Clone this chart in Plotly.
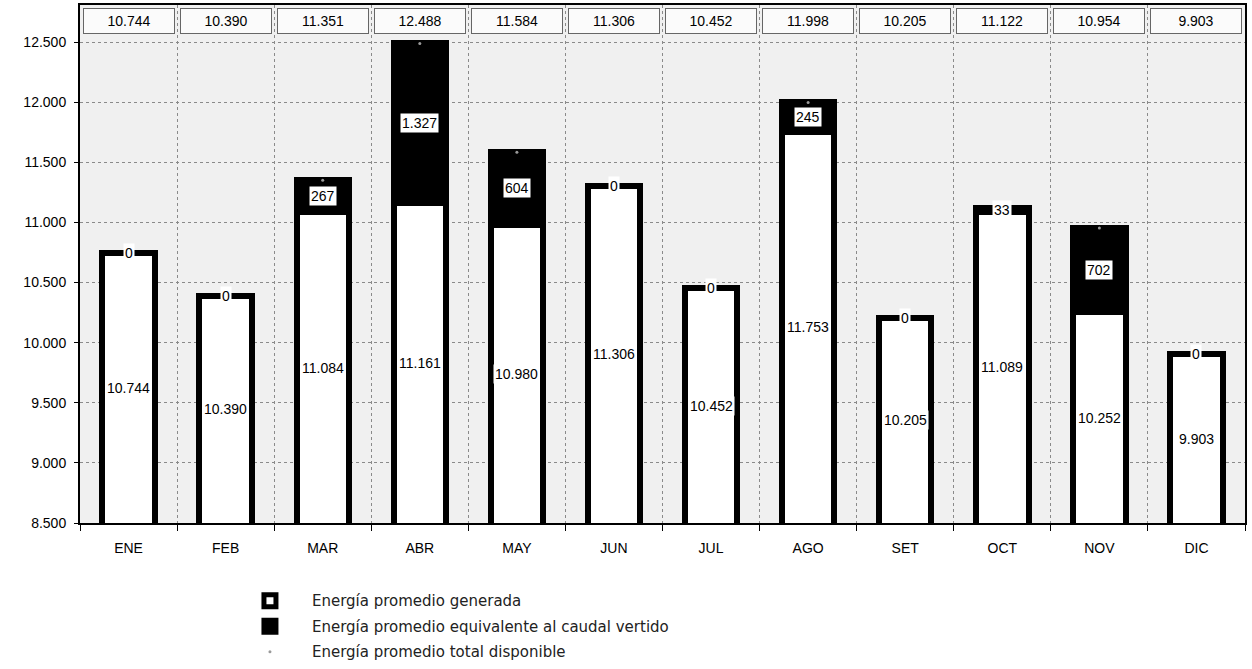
import plotly.graph_objects as go

months = ["ENE", "FEB", "MAR", "ABR", "MAY", "JUN", "JUL", "AGO", "SET", "OCT", "NOV", "DIC"]
generada = [10744, 10390, 11084, 11161, 10980, 11306, 10452, 11753, 10205, 11089, 10252, 9903]
vertido = [0, 0, 267, 1327, 604, 0, 0, 245, 0, 33, 702, 0]
total = [10744, 10390, 11351, 12488, 11584, 11306, 10452, 11998, 10205, 11122, 10954, 9903]

Y_MIN, Y_MAX = 8500, 12808

def fmt(v):
    return f"{v:,}".replace(",", ".")

fig = go.Figure()
fig.add_trace(go.Bar(
    x=months, y=generada, name="Energía promedio generada",
    marker=dict(color="white", line=dict(color="black", width=6)),
    width=0.54, legendgroup="g1",
))
fig.add_trace(go.Bar(
    x=months, y=vertido, name="Energía promedio equivalente al caudal vertido",
    marker=dict(color="black", line=dict(color="black", width=6)),
    width=0.54, legendgroup="g2",
))
fig.add_trace(go.Scatter(
    x=months, y=total, mode="markers", name="Energía promedio total disponible",
    marker=dict(size=3, color="#9a9a9a", symbol="circle"), legendgroup="g3",
))

lab_font = dict(family="Liberation Sans, Arial", size=14, color="black")
annotations = []
for m, g, v, t in zip(months, generada, vertido, total):
    annotations.append(dict(x=m, y=(Y_MIN + g) / 2, xref="x", yref="y", text=fmt(g),
                            showarrow=False, bgcolor="white", borderpad=1, font=lab_font))
    annotations.append(dict(x=m, y=g + v / 2, xref="x", yref="y", text=fmt(v),
                            showarrow=False, bgcolor="white", borderpad=1, font=lab_font))
    annotations.append(dict(x=m, y=0.969, xref="x", yref="paper", yanchor="middle",
                            text=fmt(t), showarrow=False,
                            bgcolor="rgba(255,255,255,0.75)", bordercolor="#666",
                            borderwidth=1, borderpad=1, width=88, height=22, font=lab_font))

fig.update_layout(
    width=1252, height=669,
    barmode="stack",
    separators=",.",
    paper_bgcolor="white",
    plot_bgcolor="#f0f0f0",
    margin=dict(l=80, r=7, t=5, b=146, autoexpand=False),
    font=dict(family="Liberation Sans, Arial", size=14, color="black"),
    annotations=annotations,
    showlegend=True,
    legend=dict(
        orientation="v", x=0.127, xanchor="left", y=-0.1185, yanchor="top",
        font=dict(family="DejaVu Sans", size=15, color="#222"),
        bgcolor="rgba(0,0,0,0)", tracegroupgap=3, traceorder="grouped",
        itemwidth=74,
    ),
)
fig.update_xaxes(
    type="category", range=[-0.5, len(months) - 0.5],
    showline=True, linecolor="black", linewidth=2, mirror=True,
    showgrid=True, gridcolor="#8a8a8a", griddash="dot", gridwidth=1,
    tickson="boundaries", ticks="outside", ticklen=6, tickcolor="black",
    tickfont=dict(size=14), automargin=False, ticklabelstandoff=11,
)
fig.update_yaxes(
    range=[Y_MIN, Y_MAX], dtick=500, tick0=8500, tickformat=",d",
    showline=True, linecolor="black", linewidth=2, mirror=True,
    showgrid=True, gridcolor="#8a8a8a", griddash="dot", gridwidth=1,
    ticks="outside", ticklen=4, tickcolor="black", ticklabelstandoff=5,
    tickfont=dict(size=14), zeroline=False, automargin=False,
)

fig.write_html("out.html", config={"displayModeBar": False},
               post_script="document.body.style.margin='0';")
